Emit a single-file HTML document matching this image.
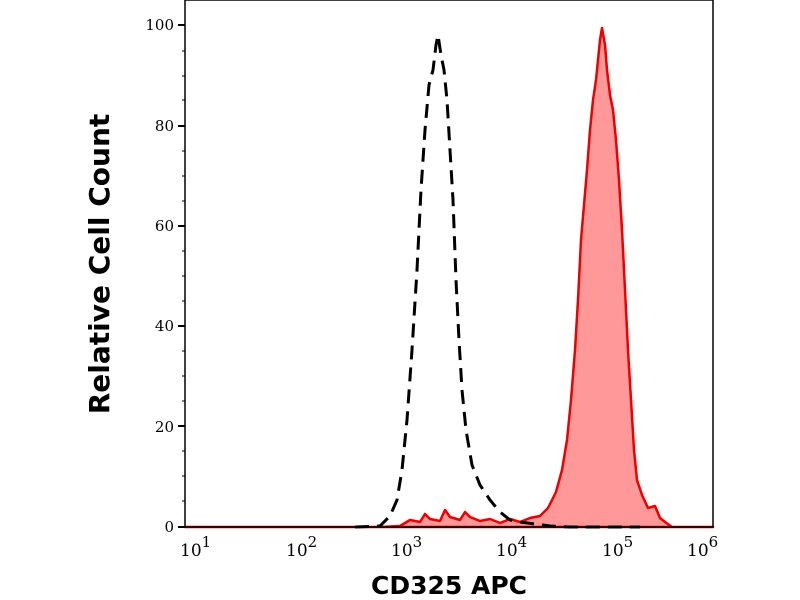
<!DOCTYPE html>
<html><head><style>body{margin:0;background:#fff}svg{display:block}</style></head><body>
<svg width="800" height="600" xmlns="http://www.w3.org/2000/svg" font-family="'DejaVu Serif','Liberation Serif',serif">
<rect width="800" height="600" fill="#fff"/>
<path d="M185,527 L380,527 L400,526 L410,520 L420,522 L425,514 L430,519 L440,521 L445,510 L450,517 L460,520 L465,512 L470,517 L480,521 L490,519 L500,523 L510,519 L520,522 L530,518 L540,516 L548,508 L556,492 L562,470 L567,440 L571,400 L575,350 L578,300 L581,240 L584,205 L587,170 L590,130 L593,100 L596,80 L598,60 L600,40 L602,28 L605,45 L607,70 L610,95 L613,110 L616,140 L619,180 L622,230 L625,290 L628,350 L631,400 L634,450 L637,480 L642,495 L648,508 L655,506 L660,518 L665,522 L672,527 L713,527 Z" fill="#f99" stroke="#e00" stroke-width="2.5" stroke-linejoin="round"/>
<path d="M355,527 L380,526 L390,516 L397,500 L402,470 L407,420 L412,350 L417,270 L421,190 L425,130 L429,85 L433,70 L436,45 L438,35 L441,55 L444,70 L447,100 L450,150 L453,200 L456,280 L459,340 L462,390 L466,430 L472,465 L480,485 L490,500 L500,512 L510,520 L520,522 L535,524 L550,526 L570,527 L640,527" fill="none" stroke="#000" stroke-width="3" stroke-dasharray="14,8"/>
<rect x="185" y="0" width="528" height="527" fill="none" stroke="#000" stroke-width="1.5"/>
<g stroke="#000" stroke-width="2">
<line x1="178" y1="527" x2="185" y2="527"/><line x1="178" y1="426" x2="185" y2="426"/><line x1="178" y1="326" x2="185" y2="326"/><line x1="178" y1="226" x2="185" y2="226"/><line x1="178" y1="126" x2="185" y2="126"/><line x1="178" y1="25" x2="185" y2="25"/>
</g>
<g stroke="#000" stroke-width="1">
<line x1="182" y1="51" x2="185" y2="51"/><line x1="182" y1="76" x2="185" y2="76"/><line x1="182" y1="100" x2="185" y2="100"/>
<line x1="182" y1="151" x2="185" y2="151"/><line x1="182" y1="176" x2="185" y2="176"/><line x1="182" y1="201" x2="185" y2="201"/>
<line x1="182" y1="251" x2="185" y2="251"/><line x1="182" y1="276" x2="185" y2="276"/><line x1="182" y1="301" x2="185" y2="301"/>
<line x1="182" y1="351" x2="185" y2="351"/><line x1="182" y1="376" x2="185" y2="376"/><line x1="182" y1="401" x2="185" y2="401"/>
<line x1="182" y1="451" x2="185" y2="451"/><line x1="182" y1="476" x2="185" y2="476"/><line x1="182" y1="501" x2="185" y2="501"/>
</g>
<g font-size="15" text-anchor="end" fill="#000">
<text x="174" y="532">0</text><text x="174" y="432">20</text><text x="174" y="331">40</text><text x="174" y="231">60</text><text x="174" y="131">80</text><text x="174" y="30">100</text>
</g>
<g id="xt" stroke="#000"></g>
<g font-size="17" fill="#000">
<text x="180" y="556">10<tspan dy="-9" font-size="15">1</tspan></text>
<text x="286" y="556">10<tspan dy="-9" font-size="15">2</tspan></text>
<text x="391" y="556">10<tspan dy="-9" font-size="15">3</tspan></text>
<text x="496" y="556">10<tspan dy="-9" font-size="15">4</tspan></text>
<text x="602" y="556">10<tspan dy="-9" font-size="15">5</tspan></text>
<text x="687" y="556">10<tspan dy="-9" font-size="15">6</tspan></text>
</g>
<text x="449" y="594" font-family="'DejaVu Sans','Liberation Sans',sans-serif" font-weight="bold" font-size="25" text-anchor="middle">CD325 APC</text>
<text transform="translate(109,264) rotate(-90)" font-family="'DejaVu Sans','Liberation Sans',sans-serif" font-weight="bold" font-size="28" text-anchor="middle">Relative Cell Count</text>
<script>
var g=document.getElementById('xt'),s='';
for(var d=0;d<6;d++){for(var k=1;k<10;k++){var x=184+105.2*(d+Math.log10(k));if(x>714)break;var L=k==1?8:4;s+='<line x1="'+x+'" y1="527" x2="'+x+'" y2="'+(527+L)+'" stroke-width="'+(k==1?2:1)+'"/>';}}
g.innerHTML=s;
</script>
</svg>
</body></html>
